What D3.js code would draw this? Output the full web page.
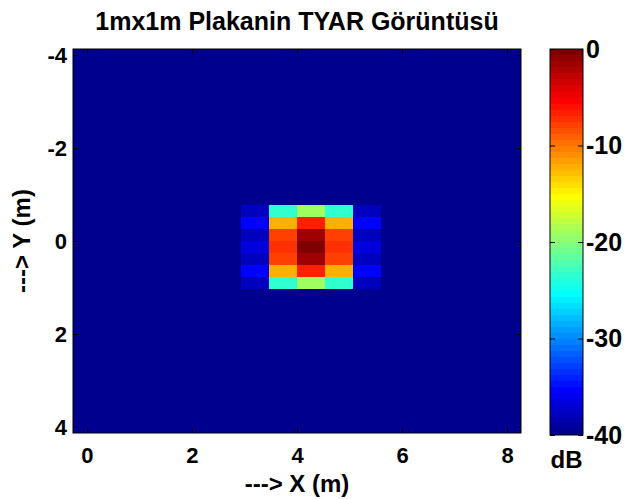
<!DOCTYPE html>
<html>
<head>
<meta charset="utf-8">
<script src="https://cdn.jsdelivr.net/npm/d3@7"></script>
<style>
  html, body { margin: 0; padding: 0; background: #fff; }
  svg { display: block; }
  text { font-family: "Liberation Sans", Arial, Helvetica, sans-serif; font-weight: bold; fill: #000; }
</style>
</head>
<body>
<svg id="chart" width="627" height="499"></svg>
<script>
// Image grid: pixel centres along X (16 columns) and Y (32 rows), metres
const xCenters = [0, 0.533, 1.067, 1.6, 2.133, 2.667, 3.2, 3.733, 4.267, 4.8, 5.333, 5.867, 6.4, 6.933, 7.467, 8];
const yCenters = [-4, -3.742, -3.484, -3.226, -2.968, -2.71, -2.452, -2.194, -1.935, -1.677, -1.419, -1.161,
                  -0.903, -0.645, -0.387, -0.129, 0.129, 0.387, 0.645, 0.903, 1.161, 1.419, 1.677, 1.935,
                  2.194, 2.452, 2.71, 2.968, 3.226, 3.484, 3.742, 4];

// Reflectivity floor (dB) for every pixel outside the plate response
const floorDb = -40;
// Plate response: rows 13..19, columns 6..10 of the grid (dB)
const plateRowStart = 13;
const plateColStart = 6;
const plateDb = [
  [-38,   -23.5, -19,  -23.5, -38],
  [-35.3, -12.2, -6.5, -12.2, -35.3],
  [-38,   -7.8,  -1.5, -7.8,  -38],
  [-36.5, -7.2,   0,   -7.2,  -36.5],
  [-38,   -7.8,  -1.5, -7.8,  -38],
  [-35.3, -12,   -6.5, -12,   -35.3],
  [-38,   -23.5, -19,  -23.5, -38]
];

const xTicks = [0, 2, 4, 6, 8];
const yTicks = [-4, -2, 0, 2, 4];
const cbTicks = [0, -10, -20, -30, -40];
const colorLimits = [-40, 0];

const titleText = "1mx1m Plakanin TYAR Görüntüsü";
const xLabel = "---> X (m)";
const yLabel = "---> Y (m)";
const cbLabel = "dB";

// Build full grid of cell values
const cells = [];
yCenters.forEach((y, r) => {
  xCenters.forEach((x, c) => {
    const pr = r - plateRowStart, pc = c - plateColStart;
    let v = floorDb;
    if (pr >= 0 && pr < plateDb.length && pc >= 0 && pc < plateDb[0].length) v = plateDb[pr][pc];
    cells.push({ x, y, v });
  });
});

// MATLAB-style jet colormap with 64 entries
const M = 64;
function jetEntry(i) { // i is 1-based
  const n = 16;
  const u = k => (k >= 1 && k <= 47) ? (k <= 16 ? k / n : (k <= 31 ? 1 : (48 - k) / n)) : 0;
  const g = (i >= 9 && i <= 55) ? u(i - 8) : 0;
  const r = (i >= 25) ? u(i - 24) : 0;
  const b = (i <= 39) ? u(i + 8) : 0;
  return d3.rgb(Math.round(r * 255), Math.round(g * 255), Math.round(b * 255)).formatHex();
}
const jet = d3.range(1, M + 1).map(jetEntry);
function colorOf(v) {
  let idx = Math.floor((v - colorLimits[0]) / (colorLimits[1] - colorLimits[0]) * M) + 1;
  idx = Math.max(1, Math.min(M, idx));
  return jet[idx - 1];
}

const svg = d3.select("#chart");
const plot = { left: 73, right: 521, top: 49, bottom: 433 };

const dx = xCenters[1] - xCenters[0];
const dy = yCenters[1] - yCenters[0];
const xScale = d3.scaleLinear()
  .domain([xCenters[0] - dx / 2, xCenters[xCenters.length - 1] + dx / 2])
  .range([plot.left, plot.right]);
const yScale = d3.scaleLinear()
  .domain([yCenters[0] - dy / 2, yCenters[yCenters.length - 1] + dy / 2])
  .range([plot.top, plot.bottom]);

// Heatmap cells
svg.append("g").selectAll("rect").data(cells).join("rect")
  .attr("x", d => xScale(d.x - dx / 2))
  .attr("y", d => yScale(d.y - dy / 2))
  .attr("width", d => xScale(d.x + dx / 2) - xScale(d.x - dx / 2) + 0.3)
  .attr("height", d => yScale(d.y + dy / 2) - yScale(d.y - dy / 2) + 0.3)
  .attr("fill", d => colorOf(d.v))
  .attr("shape-rendering", "crispEdges");

const tickLen = 5;
const fs = 22;       // axis tick labels
const cbFs = 25;     // colorbar tick labels
const labelFs = 24;  // axis labels
const plain = d => String(d); // hyphen-minus, as on the axes

// Axes: inward ticks on all four sides
svg.append("g").attr("transform", `translate(0,${plot.bottom})`)
  .call(d3.axisBottom(xScale).tickValues(xTicks).tickFormat(plain).tickSizeInner(-tickLen).tickSizeOuter(0).tickPadding(15))
  .call(g => g.select(".domain").remove())
  .call(g => g.selectAll("text").attr("font-size", fs).attr("font-family", null).attr("dy", "0.7em"))
  .call(g => g.selectAll("line").attr("stroke", "#000"));
svg.append("g").attr("transform", `translate(0,${plot.top})`)
  .call(d3.axisTop(xScale).tickValues(xTicks).tickSizeInner(-tickLen).tickSizeOuter(0).tickFormat(""))
  .call(g => g.select(".domain").remove())
  .call(g => g.selectAll("line").attr("stroke", "#000"));
svg.append("g").attr("transform", `translate(${plot.left},0)`)
  .call(d3.axisLeft(yScale).tickValues(yTicks).tickFormat(plain).tickSizeInner(-tickLen).tickSizeOuter(0).tickPadding(6))
  .call(g => g.select(".domain").remove())
  .call(g => g.selectAll("text").attr("font-size", fs).attr("font-family", null).attr("dy", "0.36em"))
  .call(g => g.selectAll("line").attr("stroke", "#000"));
svg.append("g").attr("transform", `translate(${plot.right},0)`)
  .call(d3.axisRight(yScale).tickValues(yTicks).tickSizeInner(-tickLen).tickSizeOuter(0).tickFormat(""))
  .call(g => g.select(".domain").remove())
  .call(g => g.selectAll("line").attr("stroke", "#000"));

svg.append("rect")
  .attr("x", plot.left).attr("y", plot.top)
  .attr("width", plot.right - plot.left).attr("height", plot.bottom - plot.top)
  .attr("fill", "none").attr("stroke", "#000").attr("stroke-width", 1);

// Title and axis labels
svg.append("text").attr("x", (plot.left + plot.right) / 2).attr("y", 30)
  .attr("text-anchor", "middle").attr("font-size", 25).text(titleText);
svg.append("text").attr("x", (plot.left + plot.right) / 2).attr("y", 492)
  .attr("text-anchor", "middle").attr("font-size", labelFs).text(xLabel);
svg.append("text")
  .attr("transform", `translate(30,${(plot.top + plot.bottom) / 2}) rotate(-90)`)
  .attr("text-anchor", "middle").attr("font-size", labelFs).text(yLabel);

// Colorbar
const cb = { left: 550, right: 583, top: 49, bottom: 435 };
const cbScale = d3.scaleLinear().domain(colorLimits).range([cb.bottom, cb.top]);
const stepH = (cb.bottom - cb.top) / M;
svg.append("g").selectAll("rect").data(jet).join("rect")
  .attr("x", cb.left)
  .attr("y", (d, i) => cbScale(colorLimits[0] + (i + 1) * (colorLimits[1] - colorLimits[0]) / M))
  .attr("width", cb.right - cb.left)
  .attr("height", stepH + 0.3)
  .attr("fill", d => d)
  .attr("shape-rendering", "crispEdges");
svg.append("g").attr("transform", `translate(${cb.right},0)`)
  .call(d3.axisRight(cbScale).tickValues(cbTicks).tickFormat(plain).tickSizeInner(-tickLen).tickSizeOuter(0).tickPadding(3))
  .call(g => g.select(".domain").remove())
  .call(g => g.selectAll("text").attr("font-size", cbFs).attr("font-family", null).attr("dy", "0.33em"))
  .call(g => g.selectAll("line").attr("stroke", "#000"));
svg.append("g").attr("transform", `translate(${cb.left},0)`)
  .call(d3.axisLeft(cbScale).tickValues(cbTicks).tickSizeInner(-tickLen).tickSizeOuter(0).tickFormat(""))
  .call(g => g.select(".domain").remove())
  .call(g => g.selectAll("line").attr("stroke", "#000"));
svg.append("rect")
  .attr("x", cb.left).attr("y", cb.top)
  .attr("width", cb.right - cb.left).attr("height", cb.bottom - cb.top)
  .attr("fill", "none").attr("stroke", "#000").attr("stroke-width", 1);
svg.append("text").attr("x", (cb.left + cb.right) / 2).attr("y", 468)
  .attr("text-anchor", "middle").attr("font-size", labelFs).text(cbLabel);
</script>
</body>
</html>
